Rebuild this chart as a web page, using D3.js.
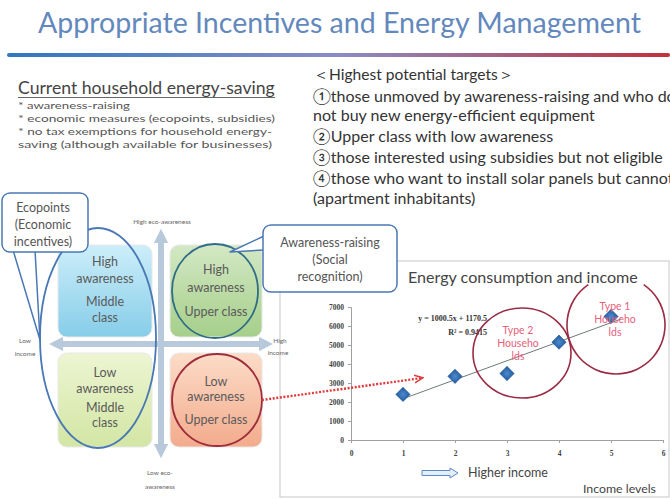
<!DOCTYPE html>
<html><head><meta charset="utf-8">
<script src="https://cdn.jsdelivr.net/npm/d3@7"></script>
<style>body{margin:0;background:#fff;} svg{display:block;font-family:Lato,"Noto Sans",sans-serif;}</style>
</head><body><svg id="c" width="670" height="499"></svg>
<script>
// ---------- data ----------
const titleText = "Appropriate Incentives and Energy Management";
const currentHeading = "Current household energy-saving";
const currentItems = ["* awareness-raising", "* economic measures (ecopoints, subsidies)", "* no tax exemptions for household energy-", "saving  (although available for businesses)"];
const targetsHeading = "＜Highest potential targets＞";
const targetLines = ["①those unmoved by awareness-raising and who do", "not buy new energy-efficient equipment", "②Upper class with low awareness", "③those interested using subsidies but not eligible", "④those who want to install solar panels but cannot", "(apartment inhabitants)"];
const quadrantNames = ["tl", "tr", "bl", "br"];
const quadrantLines = [["High", "awareness", "Middle", "class"], ["High", "awareness", "Upper class"], ["Low", "awareness", "Middle", "class"], ["Low", "awareness", "Upper class"]];
const axisLabels = {top: ["High eco-awareness"], bottom: ["Low eco-", "awareness"], left: ["Low", "income"], right: ["High", "income"]};
const ecoCallout = ["Ecopoints", "(Economic", "incentives)"];
const awareCallout = ["Awareness-raising", "(Social", "recognition)"];
const chartTitle = "Energy consumption and income";
const incomeLevels = [1, 2, 3, 4, 5];
const consumption = [2400, 3350, 3500, 5150, 6500];
const xTicks = [0, 1, 2, 3, 4, 5, 6];
const yTicks = [0, 1000, 2000, 3000, 4000, 5000, 6000, 7000];
const trendSlope = 1000.5, trendIntercept = 1170.5;
const equationLines = ["y = 1000.5x + 1170.5", "R² = 0.9415"];
const type1Lines = ["Type 1", "Househo", "lds"];
const type2Lines = ["Type 2", "Househo", "lds"];
const xAxisTitle = "Income levels";
const higherIncome = "Higher income";

// ---------- drawing ----------
const svg = d3.select("#c");
const defs = svg.append("defs");
function fit(sel, w) { const cur = sel.node().getComputedTextLength(); const fs = parseFloat(sel.attr("font-size")); sel.attr("font-size", fs * w / cur); return fs * w / cur; }

const lg = defs.append("linearGradient").attr("id", "rule");
lg.append("stop").attr("offset", "0").attr("stop-color", "#2f78c2");
lg.append("stop").attr("offset", "0.5").attr("stop-color", "#8a8cc4");
lg.append("stop").attr("offset", "1").attr("stop-color", "#c0323c");

// title
const t = svg.append("text").attr("x", 38).attr("y", 33).attr("font-size", 27).attr("fill", "#6388bd").text(titleText);
fit(t, 603);
svg.append("rect").attr("x", 7).attr("y", 53).attr("width", 663).attr("height", 4).attr("rx", 2).attr("fill", "url(#rule)");

// left text block
const h = svg.append("text").attr("x", 18).attr("y", 94).attr("font-size", 15).attr("fill", "#444").text(currentHeading);
fit(h, 257);
svg.append("line").attr("x1", 18).attr("x2", 275).attr("y1", 97.5).attr("y2", 97.5).attr("stroke", "#666").attr("stroke-width", 1);
const itemY = [109, 122, 135, 148];
const itemW = [112, 257, 254, 254];
currentItems.forEach((s, i) => {
  const e = svg.append("text").attr("x", 18).attr("y", itemY[i]).attr("font-size", 10).attr("fill", "#555").text(s);
  e.attr("textLength", itemW[i]).attr("lengthAdjust", "spacingAndGlyphs");
});

// right text block
const th = svg.append("text").attr("x", 313).attr("y", 80).attr("font-size", 14).attr("fill", "#333").text(targetsHeading);
fit(th, 200);
const tY = [102, 121, 142, 163, 184, 204];
const tg = svg.append("g");
const tls = targetLines.map((s, i) => tg.append("text").attr("x", 313).attr("y", tY[i]).attr("font-size", 14).attr("fill", "#333").text(s));
const fsT = fit(tls[3], 350);
tls.forEach(e => e.attr("font-size", fsT));

// quadrant gradients
const qCols = {tl: ["#cdeefa", "#86cde8"], tr: ["#d3e8c4", "#a5cf8a"], bl: ["#edf5d2", "#d2e6a4"], br: ["#fcdcc8", "#f3ab8c"]};
quadrantNames.forEach(k => {
  const g = defs.append("linearGradient").attr("id", "q" + k).attr("x1", 0).attr("y1", 0).attr("x2", 0).attr("y2", 1);
  g.append("stop").attr("offset", 0).attr("stop-color", qCols[k][0]);
  g.append("stop").attr("offset", 1).attr("stop-color", qCols[k][1]);
});
const qBox = {tl: [58, 245, 94, 92], tr: [170, 245, 92, 92], bl: [58, 353, 94, 94], br: [170, 353, 92, 94]};
const qTextY = {tl: [262, 279, 302, 318], tr: [270, 288, 312], bl: [373, 389, 408, 423], br: [382, 397, 420]};
quadrantNames.forEach((k, i) => {
  const b = qBox[k];
  svg.append("rect").attr("x", b[0]).attr("y", b[1]).attr("width", b[2]).attr("height", b[3]).attr("rx", 9)
    .attr("fill", "url(#q" + k + ")").attr("stroke", "#e8e8e8").attr("stroke-width", 1);
  quadrantLines[i].forEach((s, j) => {
    svg.append("text").attr("x", b[0] + b[2] / 2).attr("y", qTextY[k][j]).attr("dy", "0.35em").attr("text-anchor", "middle")
      .attr("font-size", 12.5).attr("fill", "#5a5a5a").text(s);
  });
});

// quadrant arrows
defs.append("marker").attr("id", "qa").attr("viewBox", "0 0 10 10").attr("refX", 5).attr("refY", 5).attr("markerWidth", 2.4).attr("markerHeight", 2.4).attr("orient", "auto-start-reverse")
  .append("path").attr("d", "M0,0 L10,5 L0,10 Z").attr("fill", "#b7c9da");
svg.append("line").attr("x1", 161).attr("x2", 161).attr("y1", 236).attr("y2", 451).attr("stroke", "#b7c9da").attr("stroke-width", 6)
  .attr("marker-start", "url(#qa)").attr("marker-end", "url(#qa)");
svg.append("line").attr("x1", 56).attr("x2", 266).attr("y1", 344).attr("y2", 344).attr("stroke", "#b7c9da").attr("stroke-width", 6)
  .attr("marker-start", "url(#qa)").attr("marker-end", "url(#qa)");

// circles on quadrants
svg.append("ellipse").attr("cx", 98).attr("cy", 338).attr("rx", 58).attr("ry", 110).attr("fill", "none").attr("stroke", "#4a78b4").attr("stroke-width", 1.8);
svg.append("ellipse").attr("cx", 215).attr("cy", 291).attr("rx", 43).attr("ry", 47).attr("fill", "none").attr("stroke", "#2f6c86").attr("stroke-width", 1.8);
svg.append("ellipse").attr("cx", 217).attr("cy", 400).attr("rx", 45).attr("ry", 46).attr("fill", "none").attr("stroke", "#9d2c3c").attr("stroke-width", 1.8);

// chart frame
svg.append("rect").attr("x", 280).attr("y", 261).attr("width", 389).attr("height", 236).attr("fill", "#fff").attr("stroke", "#d0d0d0").attr("stroke-width", 1.2);

// axis labels of the quadrant diagram (drawn over the frame)
const tinyTxt = (x, y, s, anchor) => svg.append("text").attr("x", x).attr("y", y).attr("dy", "0.35em").attr("text-anchor", anchor || "middle").attr("font-size", 6.5).attr("fill", "#666").text(s);
tinyTxt(162, 222, axisLabels.top[0]);
tinyTxt(160, 473, axisLabels.bottom[0]);
tinyTxt(160, 487, axisLabels.bottom[1]);
tinyTxt(25, 341, axisLabels.left[0]);
tinyTxt(25, 354, axisLabels.left[1]);
tinyTxt(280, 341, axisLabels.right[0]);
tinyTxt(278, 353, axisLabels.right[1]);

// callouts
function callout(x, y, w, hgt, tail, lines, ys, cx) {
  const g = svg.append("g");
  g.append("path").attr("d", tail).attr("fill", "#fff").attr("stroke", "#4a78b4").attr("stroke-width", 1.5).attr("stroke-linejoin", "round");
  g.append("rect").attr("x", x).attr("y", y).attr("width", w).attr("height", hgt).attr("rx", 8).attr("fill", "#fff").attr("stroke", "#4a78b4").attr("stroke-width", 1.5);
  g.append("rect").attr("x", x + 1).attr("y", y + 1).attr("width", w - 2).attr("height", hgt - 2).attr("rx", 7).attr("fill", "#fff");
  lines.forEach((s, i) => g.append("text").attr("x", cx).attr("y", ys[i]).attr("dy", "0.35em").attr("text-anchor", "middle").attr("font-size", 12.5).attr("fill", "#555").text(s));
}
callout(2, 193, 86, 59, "M13,250 L40,340 L35,250", ecoCallout, [208, 225, 242], 43);
callout(263, 225, 134, 67, "M264,236 L230,252 L264,250", awareCallout, [243, 260, 277], 330);

// ---------- scatter chart ----------
const x = d3.scaleLinear().domain([0, 6]).range([351, 663]);
const y = d3.scaleLinear().domain([0, 7000]).range([440, 307]);
svg.append("text").attr("x", 408).attr("y", 283).attr("font-size", 13.5).attr("fill", "#444").text(chartTitle).call(s => fit(s, 230));

const ya = svg.append("g").attr("transform", "translate(351,0)").call(d3.axisLeft(y).tickValues(yTicks).tickSize(3).tickFormat(d3.format("d")));
const xa = svg.append("g").attr("transform", "translate(0,440)").call(d3.axisBottom(x).tickValues(xTicks).tickSize(3).tickFormat(d3.format("d")));
[ya, xa].forEach(a => {
  a.select(".domain").attr("stroke", "#a0a0a0");
  a.selectAll(".tick line").attr("stroke", "#a0a0a0");
  a.selectAll(".tick text").attr("font-family", "Liberation Serif, serif").attr("font-weight", "bold").attr("font-size", 7.5).attr("fill", "#444");
});
ya.selectAll(".tick text").attr("x", -7);
xa.selectAll(".tick text").attr("y", 11);

// trend line
svg.append("line").attr("x1", x(1)).attr("y1", y(trendSlope * 1 + trendIntercept)).attr("x2", x(5.2)).attr("y2", y(trendSlope * 5.2 + trendIntercept))
  .attr("stroke", "#6d7a7a").attr("stroke-width", 1);

// diamonds
const dg = defs.append("radialGradient").attr("id", "dia");
dg.append("stop").attr("offset", 0).attr("stop-color", "#4f8ad0");
dg.append("stop").attr("offset", 1).attr("stop-color", "#1f5a9e");
svg.append("g").selectAll("path").data(incomeLevels).join("path")
  .attr("transform", (d, i) => `translate(${x(d)},${y(consumption[i])})`)
  .attr("d", d3.symbol(d3.symbolDiamond2, 130)).attr("fill", "url(#dia)").attr("stroke", "#1d4f8a").attr("stroke-width", 0.6);

// equation
equationLines.forEach((s, i) => svg.append("text").attr("x", 487).attr("y", 318 + i * 14).attr("dy", "0.35em").attr("text-anchor", "end")
  .attr("font-family", "Liberation Serif, serif").attr("font-weight", "bold").attr("font-size", 8).attr("fill", "#333").text(s));

// type circles
svg.append("ellipse").attr("cx", 522).attr("cy", 353).attr("rx", 49).attr("ry", 45).attr("fill", "none").attr("stroke", "#9a2d45").attr("stroke-width", 1.6);
svg.append("path").attr("transform", "translate(616,325)").attr("d", d3.arc()({innerRadius: 48.2, outerRadius: 49.8, startAngle: 0.6, endAngle: 2 * Math.PI - 0.6}))
  .attr("fill", "#9a2d45");
type2Lines.forEach((s, i) => svg.append("text").attr("x", 518).attr("y", 330 + i * 13).attr("dy", "0.35em").attr("text-anchor", "middle").attr("font-size", 10.5).attr("fill", "#e8607a").text(s));
type1Lines.forEach((s, i) => svg.append("text").attr("x", 615).attr("y", 306 + i * 13).attr("dy", "0.35em").attr("text-anchor", "middle").attr("font-size", 10.5).attr("fill", "#e8607a").text(s));

// red dotted arrow
defs.append("marker").attr("id", "ra").attr("viewBox", "0 0 10 10").attr("refX", 8).attr("refY", 5).attr("markerWidth", 4).attr("markerHeight", 4).attr("orient", "auto")
  .append("path").attr("d", "M0,1 L9,5 L0,9").attr("fill", "none").attr("stroke", "#e23a3a").attr("stroke-width", 1.6);
svg.append("line").attr("x1", 262).attr("y1", 400).attr("x2", 422).attr("y2", 378).attr("stroke", "#e23a3a").attr("stroke-width", 2.4)
  .attr("stroke-dasharray", "2,1.6").attr("marker-end", "url(#ra)");

// higher income arrow
svg.append("path").attr("d", "M422,470.5 L450,470.5 L450,468 L458,473 L450,478 L450,475.5 L422,475.5 Z").attr("fill", "#e3eef9").attr("stroke", "#5b8cc8").attr("stroke-width", 1);
svg.append("text").attr("x", 468).attr("y", 473).attr("dy", "0.35em").attr("font-size", 11).attr("fill", "#444").text(higherIncome).call(s => fit(s, 80));
svg.append("text").attr("x", 583).attr("y", 489).attr("dy", "0.35em").attr("font-size", 11).attr("fill", "#444").text(xAxisTitle).call(s => fit(s, 73));
</script></body></html>
